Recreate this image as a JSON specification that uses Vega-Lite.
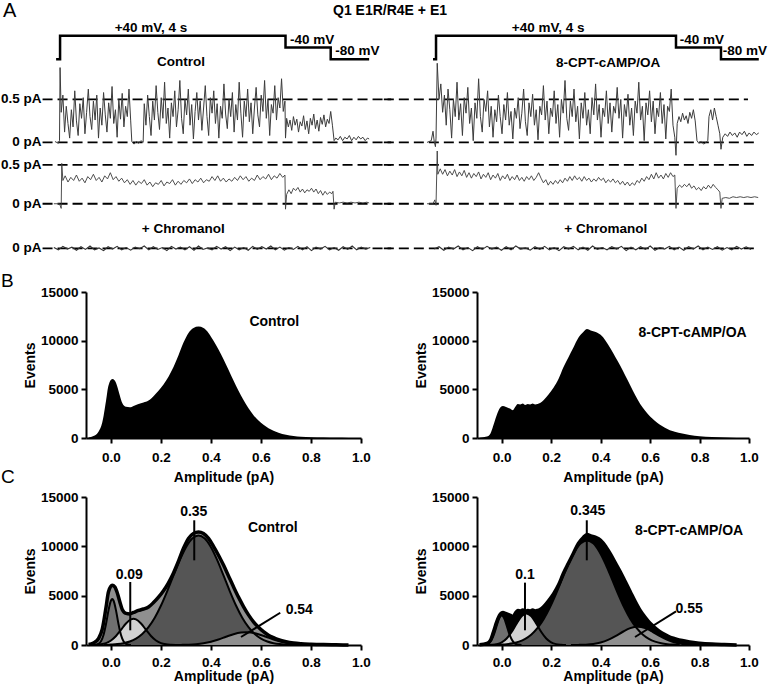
{
"$schema": "https://vega.github.io/schema/vega-lite/v6.json",
"background": "white",
"padding": {"left": 0, "right": 5, "top": 0, "bottom": 2},
"config": {
  "font": "Liberation Sans",
  "view": {"stroke": null},
  "title": {"fontSize": 14, "fontWeight": "bold", "color": "black", "font": "Liberation Sans"},
  "axis": {"domainColor": "black", "domainWidth": 2, "tickColor": "black", "tickWidth": 2, "tickSize": 5, "labelFontSize": 13.5, "labelFontWeight": "bold", "labelColor": "black", "titleFontSize": 14, "titleFontWeight": "bold", "titleColor": "black", "grid": false, "labelPadding": 2, "titlePadding": 3, "labelFlush": false, "labelOverlap": false, "labelBound": false, "labelFont": "Liberation Sans", "titleFont": "Liberation Sans"},
  "axisY": {"labelPadding": 3},
  "text": {"font": "Liberation Sans", "color": "black"}
},
"title": {"text": "Q1 E1R/R4E + E1", "anchor": "middle", "frame": "bounds", "offset": -17, "dx": 6},
"datasets": {
  "protoL": [{"t":-0.06,"v":-80},{"t":0.01,"v":40},{"t":4.0,"v":-40},{"t":4.8,"v":-80},{"t":5.48,"v":-80}],
  "protoR": [{"t":-0.05,"v":-80},{"t":0.0,"v":40},{"t":4.0,"v":-40},{"t":4.75,"v":-80},{"t":5.38,"v":-80}],
  "protoLabL": [{"t":1.62,"v":40,"label":"+40 mV, 4 s"},{"t":4.47,"v":-40,"label":"-40 mV"},{"t":5.27,"v":-80,"label":"-80 mV"}],
  "protoLabR": [{"t":1.87,"v":40,"label":"+40 mV, 4 s"},{"t":4.43,"v":-40,"label":"-40 mV"},{"t":5.15,"v":-80,"label":"-80 mV"}],
  "dashL2": [{"t":-0.30,"t2":5.87,"i":0.5},{"t":-0.30,"t2":5.87,"i":0}],
  "dashL1": [{"t":-0.30,"t2":5.87,"i":0}],
  "dashRT1": [{"t":-0.87,"t2":5.2,"i":0.5},{"t":-0.87,"t2":5.37,"i":0}],
  "dashR2": [{"t":-0.87,"t2":5.37,"i":0.5},{"t":-0.87,"t2":5.37,"i":0}],
  "dashR1": [{"t":-0.87,"t2":5.37,"i":0}],
  "pAlab2": [{"t":-0.32,"i":0.5,"label":"0.5 pA"},{"t":-0.32,"i":0,"label":"0 pA"}],
  "pAlab1": [{"t":-0.32,"i":0,"label":"0 pA"}],
  "t1L": [{"t":-0.08,"i":0.01},{"t":-0.02,"i":-0.01},{"t":0.0,"i":0.02},{"t":0.01,"i":0.87},{"t":0.03,"i":0.35},{"t":0.06,"i":0.55},{"t":0.09,"i":0.12},{"t":0.12,"i":0.42},{"t":0.15,"i":0.22},{"t":0.18,"i":0.05},{"t":0.21,"i":0.38},{"t":0.24,"i":0.18},{"t":0.27,"i":0.60},{"t":0.30,"i":0.25},{"t":0.33,"i":0.08},{"t":0.36,"i":0.45},{"t":0.39,"i":0.28},{"t":0.42,"i":0.52},{"t":0.45,"i":0.10},{"t":0.48,"i":0.35},{"t":0.51,"i":0.62},{"t":0.54,"i":0.30},{"t":0.57,"i":0.15},{"t":0.60,"i":0.48},{"t":0.63,"i":0.26},{"t":0.66,"i":0.55},{"t":0.69,"i":0.05},{"t":0.72,"i":0.40},{"t":0.75,"i":0.20},{"t":0.78,"i":0.58},{"t":0.81,"i":0.32},{"t":0.84,"i":0.12},{"t":0.87,"i":0.46},{"t":0.90,"i":0.28},{"t":0.93,"i":0.65},{"t":0.96,"i":0.22},{"t":0.99,"i":0.38},{"t":1.02,"i":0.06},{"t":1.05,"i":0.50},{"t":1.08,"i":0.27},{"t":1.11,"i":0.57},{"t":1.14,"i":0.18},{"t":1.17,"i":0.42},{"t":1.20,"i":0.30},{"t":1.23,"i":0.62},{"t":1.26,"i":0.25},{"t":1.28,"i":0.01},{"t":1.32,"i":-0.02},{"t":1.36,"i":0.01},{"t":1.40,"i":-0.01},{"t":1.44,"i":0.02},{"t":1.48,"i":0.0},{"t":1.50,"i":0.45},{"t":1.53,"i":0.20},{"t":1.56,"i":0.55},{"t":1.59,"i":0.30},{"t":1.62,"i":0.08},{"t":1.65,"i":0.48},{"t":1.68,"i":0.26},{"t":1.71,"i":0.66},{"t":1.74,"i":0.35},{"t":1.77,"i":0.15},{"t":1.80,"i":0.52},{"t":1.83,"i":0.28},{"t":1.86,"i":0.70},{"t":1.89,"i":0.22},{"t":1.92,"i":0.40},{"t":1.95,"i":0.05},{"t":1.98,"i":0.46},{"t":2.01,"i":0.30},{"t":2.04,"i":0.60},{"t":2.07,"i":0.18},{"t":2.10,"i":0.38},{"t":2.13,"i":0.72},{"t":2.16,"i":0.28},{"t":2.19,"i":0.10},{"t":2.22,"i":0.50},{"t":2.25,"i":0.32},{"t":2.28,"i":0.62},{"t":2.31,"i":0.20},{"t":2.34,"i":0.44},{"t":2.37,"i":0.04},{"t":2.40,"i":0.36},{"t":2.43,"i":0.58},{"t":2.46,"i":0.26},{"t":2.49,"i":0.48},{"t":2.52,"i":0.14},{"t":2.55,"i":0.40},{"t":2.58,"i":0.66},{"t":2.61,"i":0.30},{"t":2.64,"i":0.08},{"t":2.67,"i":0.52},{"t":2.70,"i":0.34},{"t":2.73,"i":0.60},{"t":2.76,"i":0.22},{"t":2.79,"i":0.45},{"t":2.82,"i":0.05},{"t":2.85,"i":0.42},{"t":2.88,"i":0.28},{"t":2.91,"i":0.68},{"t":2.94,"i":0.33},{"t":2.97,"i":0.16},{"t":3.00,"i":0.50},{"t":3.03,"i":0.30},{"t":3.06,"i":0.58},{"t":3.09,"i":0.12},{"t":3.12,"i":0.44},{"t":3.15,"i":0.26},{"t":3.18,"i":0.70},{"t":3.21,"i":0.34},{"t":3.24,"i":0.06},{"t":3.27,"i":0.48},{"t":3.30,"i":0.30},{"t":3.33,"i":0.62},{"t":3.36,"i":0.24},{"t":3.39,"i":0.46},{"t":3.42,"i":0.10},{"t":3.45,"i":0.40},{"t":3.48,"i":0.64},{"t":3.51,"i":0.32},{"t":3.54,"i":0.18},{"t":3.57,"i":0.55},{"t":3.60,"i":0.36},{"t":3.63,"i":0.72},{"t":3.66,"i":0.28},{"t":3.69,"i":0.50},{"t":3.72,"i":0.08},{"t":3.75,"i":0.44},{"t":3.78,"i":0.34},{"t":3.81,"i":0.66},{"t":3.84,"i":0.26},{"t":3.87,"i":0.52},{"t":3.90,"i":0.40},{"t":3.93,"i":0.74},{"t":3.96,"i":0.36},{"t":3.99,"i":0.48},{"t":4.00,"i":0.05},{"t":4.02,"i":0.28},{"t":4.05,"i":0.18},{"t":4.08,"i":0.26},{"t":4.11,"i":0.14},{"t":4.14,"i":0.30},{"t":4.17,"i":0.20},{"t":4.20,"i":0.27},{"t":4.23,"i":0.12},{"t":4.26,"i":0.24},{"t":4.29,"i":0.19},{"t":4.32,"i":0.31},{"t":4.35,"i":0.15},{"t":4.38,"i":0.25},{"t":4.41,"i":0.10},{"t":4.44,"i":0.28},{"t":4.47,"i":0.20},{"t":4.50,"i":0.33},{"t":4.53,"i":0.16},{"t":4.56,"i":0.26},{"t":4.59,"i":0.13},{"t":4.62,"i":0.29},{"t":4.65,"i":0.21},{"t":4.68,"i":0.32},{"t":4.71,"i":0.18},{"t":4.74,"i":0.27},{"t":4.77,"i":0.22},{"t":4.80,"i":0.36},{"t":4.83,"i":0.20},{"t":4.86,"i":0.02},{"t":4.89,"i":0.05},{"t":4.93,"i":0.03},{"t":4.97,"i":0.07},{"t":5.01,"i":0.02},{"t":5.05,"i":0.06},{"t":5.09,"i":0.04},{"t":5.13,"i":0.08},{"t":5.17,"i":0.02},{"t":5.21,"i":0.06},{"t":5.25,"i":0.03},{"t":5.29,"i":0.07},{"t":5.33,"i":0.04},{"t":5.37,"i":0.06},{"t":5.41,"i":0.02},{"t":5.45,"i":0.05},{"t":5.48,"i":0.04}],
  "t1R": [{"t":-0.15,"i":0.0},{"t":-0.08,"i":0.02},{"t":-0.05,"i":0.13},{"t":-0.03,"i":0.01},{"t":-0.01,"i":-0.05},{"t":0.0,"i":0.05},{"t":0.02,"i":0.92},{"t":0.05,"i":0.50},{"t":0.08,"i":0.68},{"t":0.11,"i":0.35},{"t":0.14,"i":0.55},{"t":0.17,"i":0.20},{"t":0.20,"i":0.62},{"t":0.23,"i":0.38},{"t":0.26,"i":0.05},{"t":0.29,"i":0.50},{"t":0.32,"i":0.30},{"t":0.35,"i":0.70},{"t":0.38,"i":0.26},{"t":0.41,"i":0.45},{"t":0.44,"i":0.08},{"t":0.47,"i":0.52},{"t":0.50,"i":0.34},{"t":0.53,"i":0.64},{"t":0.56,"i":0.22},{"t":0.59,"i":0.40},{"t":0.62,"i":0.02},{"t":0.65,"i":0.46},{"t":0.68,"i":0.28},{"t":0.71,"i":0.74},{"t":0.74,"i":0.30},{"t":0.77,"i":0.12},{"t":0.80,"i":0.50},{"t":0.83,"i":0.36},{"t":0.86,"i":0.60},{"t":0.89,"i":0.18},{"t":0.92,"i":0.42},{"t":0.95,"i":0.06},{"t":0.98,"i":0.38},{"t":1.01,"i":0.24},{"t":1.04,"i":0.55},{"t":1.07,"i":0.30},{"t":1.10,"i":0.10},{"t":1.13,"i":0.44},{"t":1.16,"i":0.26},{"t":1.19,"i":0.58},{"t":1.22,"i":0.20},{"t":1.25,"i":0.36},{"t":1.28,"i":0.04},{"t":1.31,"i":0.40},{"t":1.34,"i":0.28},{"t":1.37,"i":0.52},{"t":1.40,"i":0.16},{"t":1.43,"i":0.34},{"t":1.46,"i":0.62},{"t":1.49,"i":0.24},{"t":1.52,"i":0.08},{"t":1.55,"i":0.46},{"t":1.58,"i":0.30},{"t":1.61,"i":0.56},{"t":1.64,"i":0.20},{"t":1.67,"i":0.38},{"t":1.70,"i":0.03},{"t":1.73,"i":0.42},{"t":1.76,"i":0.32},{"t":1.79,"i":0.66},{"t":1.82,"i":0.26},{"t":1.85,"i":0.48},{"t":1.88,"i":0.10},{"t":1.91,"i":0.40},{"t":1.94,"i":0.30},{"t":1.97,"i":0.60},{"t":2.00,"i":0.22},{"t":2.03,"i":0.44},{"t":2.06,"i":0.06},{"t":2.09,"i":0.50},{"t":2.12,"i":0.34},{"t":2.15,"i":0.72},{"t":2.18,"i":0.28},{"t":2.21,"i":0.14},{"t":2.24,"i":0.48},{"t":2.27,"i":0.30},{"t":2.30,"i":0.62},{"t":2.33,"i":0.24},{"t":2.36,"i":0.42},{"t":2.39,"i":0.04},{"t":2.42,"i":0.46},{"t":2.45,"i":0.28},{"t":2.48,"i":0.58},{"t":2.51,"i":0.20},{"t":2.54,"i":0.38},{"t":2.57,"i":0.10},{"t":2.60,"i":0.52},{"t":2.63,"i":0.32},{"t":2.66,"i":0.68},{"t":2.69,"i":0.26},{"t":2.72,"i":0.44},{"t":2.75,"i":0.06},{"t":2.78,"i":0.40},{"t":2.81,"i":0.30},{"t":2.84,"i":0.60},{"t":2.87,"i":0.22},{"t":2.90,"i":0.46},{"t":2.93,"i":0.12},{"t":2.96,"i":0.42},{"t":2.99,"i":0.34},{"t":3.02,"i":0.64},{"t":3.05,"i":0.28},{"t":3.08,"i":0.50},{"t":3.11,"i":0.05},{"t":3.14,"i":0.44},{"t":3.17,"i":0.30},{"t":3.20,"i":0.56},{"t":3.23,"i":0.20},{"t":3.26,"i":0.40},{"t":3.29,"i":0.08},{"t":3.32,"i":0.48},{"t":3.35,"i":0.34},{"t":3.38,"i":0.70},{"t":3.41,"i":0.26},{"t":3.44,"i":0.42},{"t":3.47,"i":0.02},{"t":3.50,"i":0.46},{"t":3.53,"i":0.32},{"t":3.56,"i":0.60},{"t":3.59,"i":0.24},{"t":3.62,"i":0.48},{"t":3.65,"i":0.10},{"t":3.68,"i":0.40},{"t":3.71,"i":0.30},{"t":3.74,"i":0.58},{"t":3.77,"i":0.22},{"t":3.80,"i":0.44},{"t":3.83,"i":0.04},{"t":3.86,"i":0.42},{"t":3.89,"i":0.36},{"t":3.92,"i":0.62},{"t":3.95,"i":0.20},{"t":3.98,"i":0.06},{"t":4.00,"i":-0.15},{"t":4.02,"i":0.22},{"t":4.05,"i":0.30},{"t":4.08,"i":0.24},{"t":4.11,"i":0.34},{"t":4.14,"i":0.26},{"t":4.17,"i":0.31},{"t":4.20,"i":0.22},{"t":4.23,"i":0.35},{"t":4.26,"i":0.28},{"t":4.29,"i":0.38},{"t":4.32,"i":0.25},{"t":4.35,"i":0.02},{"t":4.38,"i":-0.01},{"t":4.42,"i":0.01},{"t":4.46,"i":-0.02},{"t":4.50,"i":0.0},{"t":4.53,"i":0.02},{"t":4.55,"i":0.30},{"t":4.58,"i":0.38},{"t":4.61,"i":0.26},{"t":4.64,"i":0.40},{"t":4.67,"i":0.30},{"t":4.70,"i":0.20},{"t":4.73,"i":0.10},{"t":4.75,"i":-0.08},{"t":4.78,"i":0.06},{"t":4.82,"i":0.10},{"t":4.86,"i":0.07},{"t":4.90,"i":0.12},{"t":4.94,"i":0.08},{"t":4.98,"i":0.11},{"t":5.02,"i":0.06},{"t":5.06,"i":0.12},{"t":5.10,"i":0.09},{"t":5.14,"i":0.13},{"t":5.18,"i":0.07},{"t":5.22,"i":0.11},{"t":5.26,"i":0.08},{"t":5.30,"i":0.12},{"t":5.34,"i":0.09},{"t":5.38,"i":0.11}],
  "t2L": [{"t":-0.1,"i":0.0},{"t":0.0,"i":0.0},{"t":0.03,"i":-0.06},{"t":0.04,"i":0.52},{"t":0.06,"i":0.30},{"t":0.10,"i":0.36},{"t":0.15,"i":0.28},{"t":0.20,"i":0.34},{"t":0.25,"i":0.30},{"t":0.30,"i":0.37},{"t":0.35,"i":0.29},{"t":0.40,"i":0.33},{"t":0.45,"i":0.27},{"t":0.50,"i":0.35},{"t":0.55,"i":0.31},{"t":0.60,"i":0.38},{"t":0.65,"i":0.30},{"t":0.70,"i":0.34},{"t":0.75,"i":0.28},{"t":0.80,"i":0.36},{"t":0.85,"i":0.32},{"t":0.90,"i":0.40},{"t":0.95,"i":0.31},{"t":1.00,"i":0.35},{"t":1.05,"i":0.29},{"t":1.10,"i":0.33},{"t":1.15,"i":0.27},{"t":1.20,"i":0.31},{"t":1.25,"i":0.25},{"t":1.30,"i":0.30},{"t":1.35,"i":0.24},{"t":1.40,"i":0.29},{"t":1.45,"i":0.26},{"t":1.50,"i":0.31},{"t":1.55,"i":0.24},{"t":1.60,"i":0.28},{"t":1.65,"i":0.22},{"t":1.70,"i":0.27},{"t":1.75,"i":0.25},{"t":1.80,"i":0.30},{"t":1.85,"i":0.23},{"t":1.90,"i":0.28},{"t":1.95,"i":0.26},{"t":2.00,"i":0.31},{"t":2.05,"i":0.24},{"t":2.10,"i":0.29},{"t":2.15,"i":0.25},{"t":2.20,"i":0.30},{"t":2.25,"i":0.27},{"t":2.30,"i":0.32},{"t":2.35,"i":0.26},{"t":2.40,"i":0.31},{"t":2.45,"i":0.28},{"t":2.50,"i":0.33},{"t":2.55,"i":0.27},{"t":2.60,"i":0.31},{"t":2.65,"i":0.29},{"t":2.70,"i":0.35},{"t":2.75,"i":0.30},{"t":2.80,"i":0.36},{"t":2.85,"i":0.29},{"t":2.90,"i":0.33},{"t":2.95,"i":0.28},{"t":3.00,"i":0.32},{"t":3.05,"i":0.29},{"t":3.10,"i":0.34},{"t":3.15,"i":0.30},{"t":3.20,"i":0.36},{"t":3.25,"i":0.31},{"t":3.30,"i":0.35},{"t":3.35,"i":0.29},{"t":3.40,"i":0.33},{"t":3.45,"i":0.30},{"t":3.50,"i":0.37},{"t":3.55,"i":0.31},{"t":3.60,"i":0.35},{"t":3.65,"i":0.32},{"t":3.70,"i":0.38},{"t":3.75,"i":0.31},{"t":3.80,"i":0.36},{"t":3.85,"i":0.33},{"t":3.90,"i":0.39},{"t":3.95,"i":0.34},{"t":3.99,"i":0.37},{"t":4.00,"i":-0.07},{"t":4.02,"i":0.12},{"t":4.06,"i":0.18},{"t":4.10,"i":0.13},{"t":4.14,"i":0.20},{"t":4.18,"i":0.17},{"t":4.22,"i":0.21},{"t":4.26,"i":0.15},{"t":4.30,"i":0.19},{"t":4.34,"i":0.14},{"t":4.38,"i":0.18},{"t":4.42,"i":0.16},{"t":4.46,"i":0.20},{"t":4.50,"i":0.15},{"t":4.54,"i":0.19},{"t":4.58,"i":0.13},{"t":4.62,"i":0.17},{"t":4.66,"i":0.11},{"t":4.70,"i":0.16},{"t":4.74,"i":0.12},{"t":4.78,"i":0.15},{"t":4.82,"i":0.13},{"t":4.84,"i":0.16},{"t":4.86,"i":-0.07},{"t":4.88,"i":0.02},{"t":4.95,"i":0.01},{"t":5.02,"i":0.02},{"t":5.09,"i":0.01},{"t":5.16,"i":0.02},{"t":5.23,"i":0.01},{"t":5.30,"i":0.02},{"t":5.37,"i":0.01},{"t":5.44,"i":0.02},{"t":5.48,"i":0.01}],
  "t2R": [{"t":-0.15,"i":0.0},{"t":-0.05,"i":0.0},{"t":-0.02,"i":0.05},{"t":0.0,"i":-0.02},{"t":0.02,"i":0.68},{"t":0.03,"i":0.38},{"t":0.07,"i":0.45},{"t":0.11,"i":0.38},{"t":0.15,"i":0.44},{"t":0.19,"i":0.36},{"t":0.23,"i":0.42},{"t":0.27,"i":0.37},{"t":0.31,"i":0.44},{"t":0.35,"i":0.35},{"t":0.39,"i":0.41},{"t":0.43,"i":0.36},{"t":0.47,"i":0.43},{"t":0.51,"i":0.34},{"t":0.55,"i":0.40},{"t":0.59,"i":0.33},{"t":0.63,"i":0.39},{"t":0.67,"i":0.35},{"t":0.71,"i":0.41},{"t":0.75,"i":0.32},{"t":0.79,"i":0.38},{"t":0.83,"i":0.34},{"t":0.87,"i":0.40},{"t":0.91,"i":0.31},{"t":0.95,"i":0.37},{"t":0.99,"i":0.33},{"t":1.03,"i":0.39},{"t":1.07,"i":0.30},{"t":1.11,"i":0.36},{"t":1.15,"i":0.32},{"t":1.19,"i":0.38},{"t":1.23,"i":0.30},{"t":1.27,"i":0.35},{"t":1.31,"i":0.31},{"t":1.35,"i":0.37},{"t":1.39,"i":0.30},{"t":1.43,"i":0.34},{"t":1.47,"i":0.29},{"t":1.51,"i":0.35},{"t":1.55,"i":0.31},{"t":1.59,"i":0.36},{"t":1.63,"i":0.30},{"t":1.67,"i":0.34},{"t":1.71,"i":0.40},{"t":1.75,"i":0.33},{"t":1.79,"i":0.27},{"t":1.83,"i":0.31},{"t":1.87,"i":0.24},{"t":1.91,"i":0.29},{"t":1.95,"i":0.25},{"t":1.99,"i":0.30},{"t":2.03,"i":0.26},{"t":2.07,"i":0.31},{"t":2.11,"i":0.27},{"t":2.15,"i":0.33},{"t":2.19,"i":0.29},{"t":2.23,"i":0.35},{"t":2.27,"i":0.30},{"t":2.31,"i":0.36},{"t":2.35,"i":0.31},{"t":2.39,"i":0.34},{"t":2.43,"i":0.29},{"t":2.47,"i":0.35},{"t":2.51,"i":0.30},{"t":2.55,"i":0.33},{"t":2.59,"i":0.28},{"t":2.63,"i":0.32},{"t":2.67,"i":0.29},{"t":2.71,"i":0.34},{"t":2.75,"i":0.30},{"t":2.79,"i":0.33},{"t":2.83,"i":0.27},{"t":2.87,"i":0.31},{"t":2.91,"i":0.28},{"t":2.95,"i":0.32},{"t":2.99,"i":0.27},{"t":3.03,"i":0.30},{"t":3.07,"i":0.25},{"t":3.11,"i":0.29},{"t":3.15,"i":0.24},{"t":3.19,"i":0.28},{"t":3.23,"i":0.23},{"t":3.27,"i":0.27},{"t":3.31,"i":0.24},{"t":3.35,"i":0.30},{"t":3.39,"i":0.27},{"t":3.43,"i":0.33},{"t":3.47,"i":0.29},{"t":3.51,"i":0.35},{"t":3.55,"i":0.31},{"t":3.59,"i":0.38},{"t":3.63,"i":0.32},{"t":3.67,"i":0.40},{"t":3.71,"i":0.33},{"t":3.75,"i":0.37},{"t":3.79,"i":0.32},{"t":3.83,"i":0.39},{"t":3.87,"i":0.34},{"t":3.91,"i":0.40},{"t":3.95,"i":0.35},{"t":3.98,"i":0.37},{"t":4.00,"i":-0.06},{"t":4.02,"i":0.20},{"t":4.06,"i":0.24},{"t":4.10,"i":0.21},{"t":4.14,"i":0.25},{"t":4.18,"i":0.22},{"t":4.22,"i":0.26},{"t":4.26,"i":0.20},{"t":4.30,"i":0.23},{"t":4.34,"i":0.18},{"t":4.38,"i":0.21},{"t":4.42,"i":0.17},{"t":4.46,"i":0.22},{"t":4.50,"i":0.19},{"t":4.54,"i":0.24},{"t":4.58,"i":0.20},{"t":4.62,"i":0.25},{"t":4.66,"i":0.21},{"t":4.70,"i":0.18},{"t":4.73,"i":0.15},{"t":4.75,"i":-0.06},{"t":4.77,"i":0.07},{"t":4.83,"i":0.08},{"t":4.89,"i":0.07},{"t":4.95,"i":0.09},{"t":5.01,"i":0.08},{"t":5.07,"i":0.09},{"t":5.13,"i":0.08},{"t":5.19,"i":0.09},{"t":5.25,"i":0.08},{"t":5.31,"i":0.09},{"t":5.37,"i":0.08}],
  "chL": [{"t":-0.1,"i":0.01},{"t":-0.02,"i":-0.02},{"t":0.06,"i":0.025},{"t":0.14,"i":-0.01},{"t":0.22,"i":0.015},{"t":0.30,"i":-0.025},{"t":0.38,"i":0.02},{"t":0.46,"i":-0.015},{"t":0.54,"i":0.03},{"t":0.62,"i":-0.02},{"t":0.70,"i":0.005},{"t":0.78,"i":-0.03},{"t":0.86,"i":0.02},{"t":0.94,"i":-0.01},{"t":1.02,"i":0.025},{"t":1.10,"i":-0.02},{"t":1.18,"i":0.01},{"t":1.26,"i":-0.025},{"t":1.34,"i":0.015},{"t":1.42,"i":-0.005},{"t":1.50,"i":0.03},{"t":1.58,"i":-0.02},{"t":1.66,"i":0.02},{"t":1.74,"i":-0.015},{"t":1.82,"i":0.01},{"t":1.90,"i":-0.03},{"t":1.98,"i":0.025},{"t":2.06,"i":-0.01},{"t":2.14,"i":0.015},{"t":2.22,"i":-0.02},{"t":2.30,"i":0.02},{"t":2.38,"i":-0.025},{"t":2.46,"i":0.03},{"t":2.54,"i":-0.015},{"t":2.62,"i":0.005},{"t":2.70,"i":-0.02},{"t":2.78,"i":0.025},{"t":2.86,"i":-0.01},{"t":2.94,"i":0.02},{"t":3.02,"i":-0.03},{"t":3.10,"i":0.015},{"t":3.18,"i":-0.02},{"t":3.26,"i":0.01},{"t":3.34,"i":-0.025},{"t":3.42,"i":0.025},{"t":3.50,"i":-0.015},{"t":3.58,"i":0.02},{"t":3.66,"i":-0.01},{"t":3.74,"i":0.03},{"t":3.82,"i":-0.02},{"t":3.90,"i":0.015},{"t":3.98,"i":-0.025},{"t":4.06,"i":0.01},{"t":4.14,"i":-0.015},{"t":4.22,"i":0.025},{"t":4.30,"i":-0.02},{"t":4.38,"i":0.02},{"t":4.46,"i":-0.03},{"t":4.54,"i":0.015},{"t":4.62,"i":-0.01},{"t":4.70,"i":0.025},{"t":4.78,"i":-0.02},{"t":4.86,"i":0.01},{"t":4.94,"i":-0.025},{"t":5.02,"i":0.02},{"t":5.10,"i":-0.015},{"t":5.18,"i":0.03},{"t":5.26,"i":-0.02},{"t":5.34,"i":0.015},{"t":5.42,"i":-0.01},{"t":5.50,"i":0.01}],
  "chR": [{"t":-0.03,"i":-0.01},{"t":0.05,"i":0.02},{"t":0.13,"i":-0.025},{"t":0.21,"i":0.015},{"t":0.29,"i":-0.01},{"t":0.37,"i":0.03},{"t":0.45,"i":-0.02},{"t":0.53,"i":0.01},{"t":0.61,"i":-0.03},{"t":0.69,"i":0.02},{"t":0.77,"i":-0.015},{"t":0.85,"i":0.025},{"t":0.93,"i":-0.01},{"t":1.01,"i":0.015},{"t":1.09,"i":-0.025},{"t":1.17,"i":0.02},{"t":1.25,"i":-0.02},{"t":1.33,"i":0.03},{"t":1.41,"i":-0.01},{"t":1.49,"i":0.005},{"t":1.57,"i":-0.025},{"t":1.65,"i":0.02},{"t":1.73,"i":-0.015},{"t":1.81,"i":0.025},{"t":1.89,"i":-0.02},{"t":1.97,"i":0.01},{"t":2.05,"i":-0.03},{"t":2.13,"i":0.02},{"t":2.21,"i":-0.01},{"t":2.29,"i":0.025},{"t":2.37,"i":-0.02},{"t":2.45,"i":0.015},{"t":2.53,"i":-0.025},{"t":2.61,"i":0.03},{"t":2.69,"i":-0.015},{"t":2.77,"i":0.01},{"t":2.85,"i":-0.02},{"t":2.93,"i":0.02},{"t":3.01,"i":-0.01},{"t":3.09,"i":0.025},{"t":3.17,"i":-0.03},{"t":3.25,"i":0.015},{"t":3.33,"i":-0.02},{"t":3.41,"i":0.02},{"t":3.49,"i":-0.015},{"t":3.57,"i":0.03},{"t":3.65,"i":-0.025},{"t":3.73,"i":0.01},{"t":3.81,"i":-0.01},{"t":3.89,"i":0.025},{"t":3.97,"i":-0.02},{"t":4.05,"i":0.015},{"t":4.13,"i":-0.025},{"t":4.21,"i":0.02},{"t":4.29,"i":-0.01},{"t":4.37,"i":0.03},{"t":4.45,"i":-0.02},{"t":4.53,"i":0.015},{"t":4.61,"i":-0.015},{"t":4.69,"i":0.02},{"t":4.77,"i":-0.025},{"t":4.85,"i":0.01},{"t":4.93,"i":-0.02},{"t":5.01,"i":0.025},{"t":5.09,"i":-0.01},{"t":5.17,"i":0.02},{"t":5.25,"i":-0.015}],
  "histCtrl": [{"a":-0.09,"ev":50},{"a":-0.07,"ev":200},{"a":-0.05,"ev":650},{"a":-0.035,"ev":1600},{"a":-0.02,"ev":3800},{"a":-0.01,"ev":5400},{"a":0.005,"ev":6050},{"a":0.015,"ev":5900},{"a":0.025,"ev":5300},{"a":0.035,"ev":4400},{"a":0.045,"ev":3600},{"a":0.06,"ev":3200},{"a":0.075,"ev":3150},{"a":0.09,"ev":3300},{"a":0.11,"ev":3500},{"a":0.13,"ev":3650},{"a":0.15,"ev":3850},{"a":0.17,"ev":4300},{"a":0.19,"ev":4850},{"a":0.21,"ev":5500},{"a":0.23,"ev":6300},{"a":0.25,"ev":7300},{"a":0.27,"ev":8500},{"a":0.29,"ev":9800},{"a":0.31,"ev":10800},{"a":0.33,"ev":11300},{"a":0.35,"ev":11450},{"a":0.37,"ev":11300},{"a":0.39,"ev":10800},{"a":0.41,"ev":10000},{"a":0.43,"ev":9100},{"a":0.45,"ev":8100},{"a":0.47,"ev":7000},{"a":0.49,"ev":5900},{"a":0.51,"ev":4850},{"a":0.53,"ev":3900},{"a":0.55,"ev":3050},{"a":0.57,"ev":2350},{"a":0.59,"ev":1800},{"a":0.61,"ev":1350},{"a":0.63,"ev":1000},{"a":0.65,"ev":750},{"a":0.67,"ev":540},{"a":0.70,"ev":330},{"a":0.73,"ev":200},{"a":0.76,"ev":130},{"a":0.80,"ev":80},{"a":0.85,"ev":40},{"a":0.90,"ev":15},{"a":0.95,"ev":0}],
  "histCpt": [{"a":-0.09,"ev":30},{"a":-0.06,"ev":150},{"a":-0.045,"ev":500},{"a":-0.035,"ev":1200},{"a":-0.025,"ev":2000},{"a":-0.015,"ev":2700},{"a":-0.005,"ev":3150},{"a":0.005,"ev":3300},{"a":0.015,"ev":3200},{"a":0.025,"ev":3100},{"a":0.035,"ev":3000},{"a":0.045,"ev":2850},{"a":0.055,"ev":3200},{"a":0.065,"ev":3500},{"a":0.075,"ev":3450},{"a":0.085,"ev":3550},{"a":0.095,"ev":3400},{"a":0.105,"ev":3500},{"a":0.115,"ev":3450},{"a":0.125,"ev":3550},{"a":0.135,"ev":3450},{"a":0.145,"ev":3500},{"a":0.155,"ev":3600},{"a":0.17,"ev":3900},{"a":0.19,"ev":4500},{"a":0.21,"ev":5200},{"a":0.23,"ev":6100},{"a":0.25,"ev":7300},{"a":0.27,"ev":8300},{"a":0.29,"ev":9300},{"a":0.31,"ev":10300},{"a":0.33,"ev":10900},{"a":0.345,"ev":11200},{"a":0.36,"ev":11050},{"a":0.38,"ev":10900},{"a":0.40,"ev":10600},{"a":0.42,"ev":10000},{"a":0.44,"ev":9200},{"a":0.46,"ev":8300},{"a":0.48,"ev":7400},{"a":0.50,"ev":6400},{"a":0.52,"ev":5400},{"a":0.54,"ev":4400},{"a":0.56,"ev":3500},{"a":0.58,"ev":2800},{"a":0.60,"ev":2200},{"a":0.62,"ev":1750},{"a":0.64,"ev":1350},{"a":0.66,"ev":1050},{"a":0.68,"ev":800},{"a":0.70,"ev":650},{"a":0.73,"ev":450},{"a":0.76,"ev":300},{"a":0.80,"ev":180},{"a":0.85,"ev":90},{"a":0.90,"ev":40},{"a":0.95,"ev":0}],
  "compCtrl": [
    {"comp":"g1","a":-0.07,"ev":0},{"comp":"g1","a":-0.06,"ev":24},{"comp":"g1","a":-0.05,"ev":106},{"comp":"g1","a":-0.04,"ev":370},{"comp":"g1","a":-0.03,"ev":1006},{"comp":"g1","a":-0.02,"ev":2129},{"comp":"g1","a":-0.01,"ev":3510},{"comp":"g1","a":0.0,"ev":4507},{"comp":"g1","a":0.005,"ev":4650},{"comp":"g1","a":0.01,"ev":4507},{"comp":"g1","a":0.02,"ev":3510},{"comp":"g1","a":0.03,"ev":2129},{"comp":"g1","a":0.04,"ev":1006},{"comp":"g1","a":0.05,"ev":370},{"comp":"g1","a":0.06,"ev":106},{"comp":"g1","a":0.07,"ev":24},{"comp":"g1","a":0.08,"ev":0},
    {"comp":"g2","a":-0.08,"ev":0},{"comp":"g2","a":-0.06,"ev":20},{"comp":"g2","a":-0.04,"ev":68},{"comp":"g2","a":-0.02,"ev":192},{"comp":"g2","a":0.0,"ev":457},{"comp":"g2","a":0.02,"ev":915},{"comp":"g2","a":0.04,"ev":1540},{"comp":"g2","a":0.06,"ev":2180},{"comp":"g2","a":0.08,"ev":2593},{"comp":"g2","a":0.09,"ev":2650},{"comp":"g2","a":0.10,"ev":2593},{"comp":"g2","a":0.12,"ev":2180},{"comp":"g2","a":0.14,"ev":1540},{"comp":"g2","a":0.16,"ev":915},{"comp":"g2","a":0.18,"ev":457},{"comp":"g2","a":0.20,"ev":192},{"comp":"g2","a":0.22,"ev":68},{"comp":"g2","a":0.24,"ev":20},{"comp":"g2","a":0.26,"ev":0},
    {"comp":"g3","a":-0.03,"ev":0},{"comp":"g3","a":0.0,"ev":43},{"comp":"g3","a":0.025,"ev":92},{"comp":"g3","a":0.05,"ev":187},{"comp":"g3","a":0.075,"ev":360},{"comp":"g3","a":0.1,"ev":653},{"comp":"g3","a":0.125,"ev":1118},{"comp":"g3","a":0.15,"ev":1809},{"comp":"g3","a":0.175,"ev":2768},{"comp":"g3","a":0.2,"ev":4002},{"comp":"g3","a":0.225,"ev":5465},{"comp":"g3","a":0.25,"ev":7053},{"comp":"g3","a":0.275,"ev":8600},{"comp":"g3","a":0.3,"ev":9910},{"comp":"g3","a":0.325,"ev":10790},{"comp":"g3","a":0.35,"ev":11100},{"comp":"g3","a":0.375,"ev":10790},{"comp":"g3","a":0.4,"ev":9910},{"comp":"g3","a":0.425,"ev":8600},{"comp":"g3","a":0.45,"ev":7053},{"comp":"g3","a":0.475,"ev":5465},{"comp":"g3","a":0.5,"ev":4002},{"comp":"g3","a":0.525,"ev":2768},{"comp":"g3","a":0.55,"ev":1809},{"comp":"g3","a":0.575,"ev":1118},{"comp":"g3","a":0.6,"ev":653},{"comp":"g3","a":0.625,"ev":360},{"comp":"g3","a":0.65,"ev":187},{"comp":"g3","a":0.675,"ev":92},{"comp":"g3","a":0.7,"ev":43},{"comp":"g3","a":0.73,"ev":0},
    {"comp":"g4","a":0.25,"ev":0},{"comp":"g4","a":0.28,"ev":12},{"comp":"g4","a":0.31,"ev":33},{"comp":"g4","a":0.34,"ev":82},{"comp":"g4","a":0.37,"ev":176},{"comp":"g4","a":0.40,"ev":335},{"comp":"g4","a":0.43,"ev":563},{"comp":"g4","a":0.46,"ev":835},{"comp":"g4","a":0.49,"ev":1093},{"comp":"g4","a":0.52,"ev":1265},{"comp":"g4","a":0.54,"ev":1300},{"comp":"g4","a":0.56,"ev":1265},{"comp":"g4","a":0.59,"ev":1093},{"comp":"g4","a":0.62,"ev":835},{"comp":"g4","a":0.65,"ev":563},{"comp":"g4","a":0.68,"ev":335},{"comp":"g4","a":0.71,"ev":176},{"comp":"g4","a":0.74,"ev":82},{"comp":"g4","a":0.77,"ev":33},{"comp":"g4","a":0.80,"ev":12},{"comp":"g4","a":0.83,"ev":0}],
  "compCpt": [
    {"comp":"g1","a":-0.08,"ev":0},{"comp":"g1","a":-0.07,"ev":19},{"comp":"g1","a":-0.06,"ev":73},{"comp":"g1","a":-0.05,"ev":227},{"comp":"g1","a":-0.04,"ev":575},{"comp":"g1","a":-0.03,"ev":1184},{"comp":"g1","a":-0.02,"ev":1985},{"comp":"g1","a":-0.01,"ev":2706},{"comp":"g1","a":0.0,"ev":3000},{"comp":"g1","a":0.01,"ev":2706},{"comp":"g1","a":0.02,"ev":1985},{"comp":"g1","a":0.03,"ev":1184},{"comp":"g1","a":0.04,"ev":575},{"comp":"g1","a":0.05,"ev":227},{"comp":"g1","a":0.06,"ev":73},{"comp":"g1","a":0.07,"ev":19},{"comp":"g1","a":0.08,"ev":0},
    {"comp":"g2","a":-0.06,"ev":0},{"comp":"g2","a":-0.04,"ev":25},{"comp":"g2","a":-0.02,"ev":91},{"comp":"g2","a":0.0,"ev":271},{"comp":"g2","a":0.02,"ev":659},{"comp":"g2","a":0.04,"ev":1316},{"comp":"g2","a":0.06,"ev":2156},{"comp":"g2","a":0.08,"ev":2899},{"comp":"g2","a":0.1,"ev":3200},{"comp":"g2","a":0.12,"ev":2899},{"comp":"g2","a":0.14,"ev":2156},{"comp":"g2","a":0.16,"ev":1316},{"comp":"g2","a":0.18,"ev":659},{"comp":"g2","a":0.2,"ev":271},{"comp":"g2","a":0.22,"ev":91},{"comp":"g2","a":0.24,"ev":25},{"comp":"g2","a":0.26,"ev":0},
    {"comp":"g3","a":-0.03,"ev":0},{"comp":"g3","a":-0.005,"ev":41},{"comp":"g3","a":0.02,"ev":88},{"comp":"g3","a":0.045,"ev":179},{"comp":"g3","a":0.07,"ev":343},{"comp":"g3","a":0.095,"ev":623},{"comp":"g3","a":0.12,"ev":1067},{"comp":"g3","a":0.145,"ev":1728},{"comp":"g3","a":0.17,"ev":2644},{"comp":"g3","a":0.195,"ev":3821},{"comp":"g3","a":0.22,"ev":5218},{"comp":"g3","a":0.245,"ev":6735},{"comp":"g3","a":0.27,"ev":8213},{"comp":"g3","a":0.295,"ev":9464},{"comp":"g3","a":0.32,"ev":10304},{"comp":"g3","a":0.345,"ev":10600},{"comp":"g3","a":0.37,"ev":10304},{"comp":"g3","a":0.395,"ev":9464},{"comp":"g3","a":0.42,"ev":8213},{"comp":"g3","a":0.445,"ev":6735},{"comp":"g3","a":0.47,"ev":5218},{"comp":"g3","a":0.495,"ev":3821},{"comp":"g3","a":0.52,"ev":2644},{"comp":"g3","a":0.545,"ev":1728},{"comp":"g3","a":0.57,"ev":1067},{"comp":"g3","a":0.595,"ev":623},{"comp":"g3","a":0.62,"ev":343},{"comp":"g3","a":0.645,"ev":179},{"comp":"g3","a":0.67,"ev":88},{"comp":"g3","a":0.695,"ev":41},{"comp":"g3","a":0.72,"ev":0},
    {"comp":"g4","a":0.28,"ev":0},{"comp":"g4","a":0.31,"ev":11},{"comp":"g4","a":0.34,"ev":37},{"comp":"g4","a":0.37,"ev":104},{"comp":"g4","a":0.40,"ev":250},{"comp":"g4","a":0.43,"ev":514},{"comp":"g4","a":0.46,"ev":901},{"comp":"g4","a":0.49,"ev":1343},{"comp":"g4","a":0.52,"ev":1708},{"comp":"g4","a":0.55,"ev":1850},{"comp":"g4","a":0.58,"ev":1708},{"comp":"g4","a":0.61,"ev":1343},{"comp":"g4","a":0.64,"ev":901},{"comp":"g4","a":0.67,"ev":514},{"comp":"g4","a":0.70,"ev":250},{"comp":"g4","a":0.73,"ev":104},{"comp":"g4","a":0.76,"ev":37},{"comp":"g4","a":0.79,"ev":11},{"comp":"g4","a":0.82,"ev":0}],
  "ptrCtrl": [{"a":0.333,"ev":12640,"a2":0.333,"ev2":8580},{"a":0.077,"ev":6385,"a2":0.077,"ev2":1490},{"a":0.677,"ev":3270,"a2":0.52,"ev2":810}],
  "labCtrl": [{"a":0.331,"ev":13480,"label":"0.35"},{"a":0.073,"ev":7060,"label":"0.09"},{"a":0.753,"ev":3515,"label":"0.54"},{"a":0.647,"ev":11860,"label":"Control"}],
  "ptrCpt": [{"a":0.344,"ev":12640,"a2":0.344,"ev2":8580},{"a":0.094,"ev":6320,"a2":0.094,"ev2":1490},{"a":0.705,"ev":3415,"a2":0.539,"ev2":810}],
  "labCpt": [{"a":0.348,"ev":13550,"label":"0.345"},{"a":0.094,"ev":7060,"label":"0.1"},{"a":0.758,"ev":3680,"label":"0.55"},{"a":0.758,"ev":11520,"label":"8-CPT-cAMP/OA"}]
},
"columns": 2,
"align": "each",
"bounds": "flush",
"spacing": {"row": 0, "column": 116},
"concat": [
  {"width": 275, "height": 35,
   "encoding": {"x": {"field": "t", "type": "quantitative", "scale": {"domain": [0.469, 5.336], "nice": false, "zero": false}, "axis": null},
                "y": {"field": "v", "type": "ordinal", "scale": {"type": "point", "domain": [40, -40, -80], "padding": 0.5}, "axis": null}},
   "layer": [
     {"data": {"name": "protoL"}, "mark": {"type": "line", "interpolate": "step-after", "color": "black", "strokeWidth": 2.5}, "encoding": {"order": {"field": "t", "type": "quantitative"}}},
     {"data": {"name": "protoLabL"}, "mark": {"type": "text", "fontSize": 13.5, "fontWeight": "bold", "dy": -8, "baseline": "middle"}, "encoding": {"text": {"field": "label"}}}
   ]},
  {"width": 272, "height": 35,
   "encoding": {"x": {"field": "t", "type": "quantitative", "scale": {"domain": [0.683, 5.217], "nice": false, "zero": false}, "axis": null},
                "y": {"field": "v", "type": "ordinal", "scale": {"type": "point", "domain": [40, -40, -80], "padding": 0.5}, "axis": null}},
   "layer": [
     {"data": {"name": "protoR"}, "mark": {"type": "line", "interpolate": "step-after", "color": "black", "strokeWidth": 2.5}, "encoding": {"order": {"field": "t", "type": "quantitative"}}},
     {"data": {"name": "protoLabR"}, "mark": {"type": "text", "fontSize": 13.5, "fontWeight": "bold", "dy": -8, "baseline": "middle"}, "encoding": {"text": {"field": "label"}}}
   ]},
  {"width": 275, "height": 86,
   "encoding": {"x": {"field": "t", "type": "quantitative", "scale": {"domain": [0.469, 5.336], "nice": false, "zero": false}, "axis": null},
                "y": {"field": "i", "type": "quantitative", "scale": {"domain": [-0.1, 0.9], "nice": false, "zero": false}, "axis": null}},
   "layer": [
     {"data": {"name": "dashL2"}, "mark": {"type": "rule", "color": "black", "strokeWidth": 1.8, "strokeDash": [10, 5]}, "encoding": {"x2": {"field": "t2"}}},
     {"data": {"name": "t1L"}, "mark": {"type": "line", "color": "#3c3c3c", "strokeWidth": 1.0}, "encoding": {}},
     {"data": {"name": "pAlab2"}, "mark": {"type": "text", "align": "right", "baseline": "middle", "fontSize": 13.5, "fontWeight": "bold"}, "encoding": {"text": {"field": "label"}}},
     {"data": {"values": [{"t": 2.15, "i": 0.93, "label": "Control"}]}, "mark": {"type": "text", "fontSize": 13.5, "fontWeight": "bold", "baseline": "middle"}, "encoding": {"text": {"field": "label"}}},
     {"data": {"values": [{"t": -1.0, "i": 1.53, "label": "A"}]}, "mark": {"type": "text", "fontSize": 20, "align": "left", "baseline": "middle"}, "encoding": {"text": {"field": "label"}}}
   ]},
  {"width": 272, "height": 86,
   "encoding": {"x": {"field": "t", "type": "quantitative", "scale": {"domain": [0.683, 5.217], "nice": false, "zero": false}, "axis": null},
                "y": {"field": "i", "type": "quantitative", "scale": {"domain": [-0.1, 0.9], "nice": false, "zero": false}, "axis": null}},
   "layer": [
     {"data": {"name": "dashRT1"}, "mark": {"type": "rule", "color": "black", "strokeWidth": 1.8, "strokeDash": [10, 5]}, "encoding": {"x2": {"field": "t2"}}},
     {"data": {"name": "t1R"}, "mark": {"type": "line", "color": "#3c3c3c", "strokeWidth": 1.0}, "encoding": {}},
     {"data": {"values": [{"t": 2.87, "i": 0.92, "label": "8-CPT-cAMP/OA"}]}, "mark": {"type": "text", "fontSize": 13.5, "fontWeight": "bold", "baseline": "middle"}, "encoding": {"text": {"field": "label"}}}
   ]},
  {"width": 275, "height": 60.5,
   "encoding": {"x": {"field": "t", "type": "quantitative", "scale": {"domain": [0.469, 5.336], "nice": false, "zero": false}, "axis": null},
                "y": {"field": "i", "type": "quantitative", "scale": {"domain": [-0.1, 0.68], "nice": false, "zero": false}, "axis": null}},
   "layer": [
     {"data": {"name": "dashL2"}, "mark": {"type": "rule", "color": "black", "strokeWidth": 1.8, "strokeDash": [10, 5]}, "encoding": {"x2": {"field": "t2"}}},
     {"data": {"name": "t2L"}, "mark": {"type": "line", "color": "#3c3c3c", "strokeWidth": 0.9}, "encoding": {}},
     {"data": {"name": "pAlab2"}, "mark": {"type": "text", "align": "right", "baseline": "middle", "fontSize": 13.5, "fontWeight": "bold"}, "encoding": {"text": {"field": "label"}}}
   ]},
  {"width": 272, "height": 60.5,
   "encoding": {"x": {"field": "t", "type": "quantitative", "scale": {"domain": [0.683, 5.217], "nice": false, "zero": false}, "axis": null},
                "y": {"field": "i", "type": "quantitative", "scale": {"domain": [-0.1, 0.68], "nice": false, "zero": false}, "axis": null}},
   "layer": [
     {"data": {"name": "dashR2"}, "mark": {"type": "rule", "color": "black", "strokeWidth": 1.8, "strokeDash": [10, 5]}, "encoding": {"x2": {"field": "t2"}}},
     {"data": {"name": "t2R"}, "mark": {"type": "line", "color": "#3c3c3c", "strokeWidth": 0.9}, "encoding": {}}
   ]},
  {"width": 275, "height": 79.3,
   "encoding": {"x": {"field": "t", "type": "quantitative", "scale": {"domain": [0.469, 5.336], "nice": false, "zero": false}, "axis": null},
                "y": {"field": "i", "type": "quantitative", "scale": {"domain": [-0.557, 0.47], "nice": false, "zero": false}, "axis": null}},
   "layer": [
     {"data": {"name": "dashL1"}, "mark": {"type": "rule", "color": "black", "strokeWidth": 1.8, "strokeDash": [10, 5]}, "encoding": {"x2": {"field": "t2"}}},
     {"data": {"name": "chL"}, "mark": {"type": "line", "color": "#333333", "strokeWidth": 1.1}, "encoding": {}},
     {"data": {"name": "pAlab1"}, "mark": {"type": "text", "align": "right", "baseline": "middle", "fontSize": 13.5, "fontWeight": "bold"}, "encoding": {"text": {"field": "label"}}},
     {"data": {"values": [{"t": 2.19, "i": 0.25, "label": "+ Chromanol"}]}, "mark": {"type": "text", "fontSize": 13.5, "fontWeight": "bold", "baseline": "middle"}, "encoding": {"text": {"field": "label"}}}
   ]},
  {"width": 272, "height": 79.3,
   "encoding": {"x": {"field": "t", "type": "quantitative", "scale": {"domain": [0.683, 5.217], "nice": false, "zero": false}, "axis": null},
                "y": {"field": "i", "type": "quantitative", "scale": {"domain": [-0.557, 0.47], "nice": false, "zero": false}, "axis": null}},
   "layer": [
     {"data": {"name": "dashR1"}, "mark": {"type": "rule", "color": "black", "strokeWidth": 1.8, "strokeDash": [10, 5]}, "encoding": {"x2": {"field": "t2"}}},
     {"data": {"name": "chR"}, "mark": {"type": "line", "color": "#333333", "strokeWidth": 1.1}, "encoding": {}},
     {"data": {"values": [{"t": 2.83, "i": 0.25, "label": "+ Chromanol"}]}, "mark": {"type": "text", "fontSize": 13.5, "fontWeight": "bold", "baseline": "middle"}, "encoding": {"text": {"field": "label"}}}
   ]},
  {"width": 275, "height": 146,
   "encoding": {"x": {"field": "a", "type": "quantitative", "scale": {"domain": [-0.1, 1.0], "nice": false, "zero": false}, "axis": {"values": [0, 0.2, 0.4, 0.6, 0.8, 1.0], "format": ".1f", "title": "Amplitude (pA)", "labelPadding": 7, "titlePadding": 7}},
                "y": {"field": "ev", "type": "quantitative", "scale": {"domain": [0, 15000], "nice": false, "zero": false}, "axis": {"values": [0, 5000, 10000, 15000], "format": "d", "title": "Events"}}},
   "layer": [
     {"data": {"name": "histCtrl"}, "mark": {"type": "area", "color": "black", "interpolate": "monotone"}, "encoding": {}},
     {"data": {"values": [{"a": 0.653, "ev": 11900, "label": "Control"}]}, "mark": {"type": "text", "fontSize": 14, "fontWeight": "bold", "baseline": "middle"}, "encoding": {"text": {"field": "label"}}},
     {"data": {"values": [{"a": -0.44, "ev": 16180, "label": "B"}]}, "mark": {"type": "text", "fontSize": 19, "align": "left", "baseline": "middle"}, "encoding": {"text": {"field": "label"}}}
   ]},
  {"width": 272, "height": 146,
   "encoding": {"x": {"field": "a", "type": "quantitative", "scale": {"domain": [-0.1, 1.0], "nice": false, "zero": false}, "axis": {"values": [0, 0.2, 0.4, 0.6, 0.8, 1.0], "format": ".1f", "title": "Amplitude (pA)", "labelPadding": 7, "titlePadding": 7}},
                "y": {"field": "ev", "type": "quantitative", "scale": {"domain": [0, 15000], "nice": false, "zero": false}, "axis": {"values": [0, 5000, 10000, 15000], "format": "d", "title": "Events"}}},
   "layer": [
     {"data": {"name": "histCpt"}, "mark": {"type": "area", "color": "black", "interpolate": "monotone"}, "encoding": {}},
     {"data": {"values": [{"a": 0.772, "ev": 10830, "label": "8-CPT-cAMP/OA"}]}, "mark": {"type": "text", "fontSize": 14, "fontWeight": "bold", "baseline": "middle"}, "encoding": {"text": {"field": "label"}}}
   ]},
  {"width": 275, "height": 59, "data": {"values": []}, "mark": "text"},
  {"width": 272, "height": 59, "data": {"values": []}, "mark": "text"},
  {"width": 275, "height": 148,
   "encoding": {"x": {"field": "a", "type": "quantitative", "scale": {"domain": [-0.1, 1.0], "nice": false, "zero": false}, "axis": {"values": [0, 0.2, 0.4, 0.6, 0.8, 1.0], "format": ".1f", "title": "Amplitude (pA)", "labelPadding": 5, "titlePadding": 1}},
                "y": {"field": "ev", "type": "quantitative", "scale": {"domain": [0, 15000], "nice": false, "zero": false}, "axis": {"values": [0, 5000, 10000, 15000], "format": "d", "title": "Events"}}},
   "layer": [
     {"data": {"name": "histCtrl"}, "mark": {"type": "area", "color": "#8f8f8f", "interpolate": "monotone"}, "encoding": {}},
     {"data": {"name": "compCtrl"}, "mark": {"type": "area", "interpolate": "monotone"},
      "encoding": {"y": {"field": "ev", "type": "quantitative", "stack": null, "scale": {"domain": [0, 15000], "nice": false, "zero": false}, "axis": {"values": [0, 5000, 10000, 15000], "format": "d", "title": "Events"}},
                   "color": {"field": "comp", "type": "nominal", "scale": {"domain": ["g1", "g2", "g3", "g4"], "range": ["#707070", "#d2d2d2", "#555555", "#8f8f8f"]}, "legend": null}}},
     {"data": {"name": "compCtrl"}, "mark": {"type": "line", "color": "black", "strokeWidth": 2, "interpolate": "monotone"}, "encoding": {"detail": {"field": "comp"}}},
     {"data": {"name": "histCtrl"}, "mark": {"type": "line", "color": "black", "strokeWidth": 3.5, "interpolate": "monotone"}, "encoding": {}},
     {"data": {"name": "ptrCtrl"}, "mark": {"type": "rule", "color": "black", "strokeWidth": 2}, "encoding": {"x2": {"field": "a2"}, "y2": {"field": "ev2"}}},
     {"data": {"name": "labCtrl"}, "mark": {"type": "text", "fontSize": 14, "fontWeight": "bold", "baseline": "middle"}, "encoding": {"text": {"field": "label"}}},
     {"data": {"values": [{"a": -0.44, "ev": 17030, "label": "C"}]}, "mark": {"type": "text", "fontSize": 19, "align": "left", "baseline": "middle"}, "encoding": {"text": {"field": "label"}}}
   ]},
  {"width": 272, "height": 148,
   "encoding": {"x": {"field": "a", "type": "quantitative", "scale": {"domain": [-0.1, 1.0], "nice": false, "zero": false}, "axis": {"values": [0, 0.2, 0.4, 0.6, 0.8, 1.0], "format": ".1f", "title": "Amplitude (pA)", "labelPadding": 5, "titlePadding": 1}},
                "y": {"field": "ev", "type": "quantitative", "scale": {"domain": [0, 15000], "nice": false, "zero": false}, "axis": {"values": [0, 5000, 10000, 15000], "format": "d", "title": "Events"}}},
   "layer": [
     {"data": {"name": "histCpt"}, "mark": {"type": "area", "color": "black", "interpolate": "monotone"}, "encoding": {}},
     {"data": {"name": "compCpt"}, "mark": {"type": "area", "interpolate": "monotone"},
      "encoding": {"y": {"field": "ev", "type": "quantitative", "stack": null, "scale": {"domain": [0, 15000], "nice": false, "zero": false}, "axis": {"values": [0, 5000, 10000, 15000], "format": "d", "title": "Events"}},
                   "color": {"field": "comp", "type": "nominal", "scale": {"domain": ["g1", "g2", "g3", "g4"], "range": ["#555555", "#8a8a8a", "#555555", "#cccccc"]}, "legend": null}}},
     {"data": {"name": "compCpt"}, "mark": {"type": "line", "color": "black", "strokeWidth": 2, "interpolate": "monotone"}, "encoding": {"detail": {"field": "comp"}}},
     {"data": {"name": "histCpt"}, "mark": {"type": "line", "color": "black", "strokeWidth": 3.5, "interpolate": "monotone"}, "encoding": {}},
     {"data": {"name": "ptrCpt"}, "mark": {"type": "rule", "color": "black", "strokeWidth": 2}, "encoding": {"x2": {"field": "a2"}, "y2": {"field": "ev2"}}},
     {"data": {"name": "labCpt"}, "mark": {"type": "text", "fontSize": 14, "fontWeight": "bold", "baseline": "middle"}, "encoding": {"text": {"field": "label"}}}
   ]}
]
}
